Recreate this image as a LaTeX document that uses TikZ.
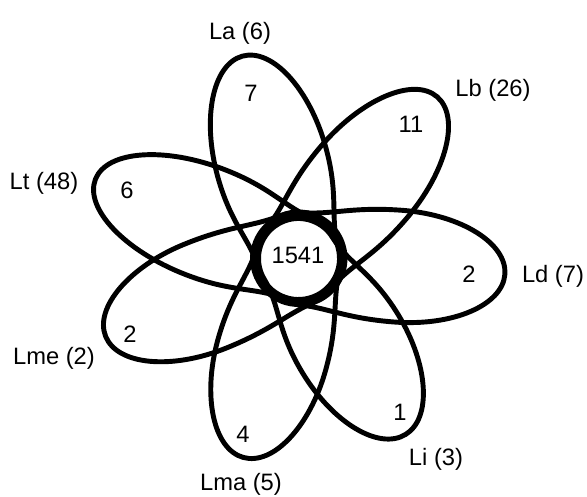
\documentclass[tikz,border=0pt]{standalone}
\usepackage{fontspec}
\setmainfont{Liberation Sans}
\usepackage{tikz}
\tikzset{
  petal/.style ={draw, line width=2.8pt, line join=round},
  setlbl/.style={font=\fontsize{13.5}{16}\selectfont, inner sep=0pt},
  cnt/.style   ={font=\fontsize{13.5}{16}\selectfont, inner sep=0pt},
}
% petal: #1 angle, #2 inner ring radius, #3 outer half length
\newcommand{\vennpetal}[3]{%
  \begin{scope}[shift={(ctr)}, rotate=#1]
    \draw[petal] (0,-#2) arc[start angle=-90, end angle=-270, radius=#2]
      .. controls (0.6,#2) and (1.0,1.12) .. (2,1.12)
      arc[start angle=90, end angle=-90, x radius=#3, y radius=1.12]
      .. controls (1.0,-1.12) and (0.6,-#2) .. (0,-#2) -- cycle;
  \end{scope}}

\begin{document}
\begin{tikzpicture}
  \useasboundingbox (0,0) rectangle (11.74,9.94);
  \coordinate (ctr) at (5.97,4.77);

  \vennpetal{105.5}{0.82}{2.20}  % La
  \vennpetal{49.4}{0.88}{2.26}   % Lb
  \vennpetal{-4.4}{0.92}{2.14}   % Ld
  \vennpetal{-58.7}{0.80}{2.12}  % Li
  \vennpetal{-105.5}{0.86}{2.13} % Lma
  \vennpetal{202}{0.93}{2.16}    % Lme
  \vennpetal{158.7}{0.85}{2.36}  % Lt

  \node[setlbl] (la)  at (4.80,9.28)  {La (6)};
  \node[setlbl] (lb)  at (9.86,8.14)  {Lb (26)};
  \node[setlbl] (ld)  at (11.06,4.42) {Ld (7)};
  \node[setlbl] (li)  at (8.72,0.76)  {Li (3)};
  \node[setlbl] (lma) at (4.82,0.26)  {Lma (5)};
  \node[setlbl] (lme) at (1.08,2.78)  {Lme (2)};
  \node[setlbl] (lt)  at (0.88,6.28)  {Lt (48)};

  \node[cnt] (all)  at (5.96,4.84) {1541};
  \node[cnt] (only-la)  at (5.02,8.08) {7};
  \node[cnt] (only-lb)  at (8.22,7.46) {11};
  \node[cnt] (only-ld)  at (9.38,4.46) {2};
  \node[cnt] (only-li)  at (8.00,1.70) {1};
  \node[cnt] (only-lma) at (4.86,1.26) {4};
  \node[cnt] (only-lme) at (2.60,3.26) {2};
  \node[cnt] (only-lt)  at (2.54,6.14) {6};
\end{tikzpicture}
\end{document}
